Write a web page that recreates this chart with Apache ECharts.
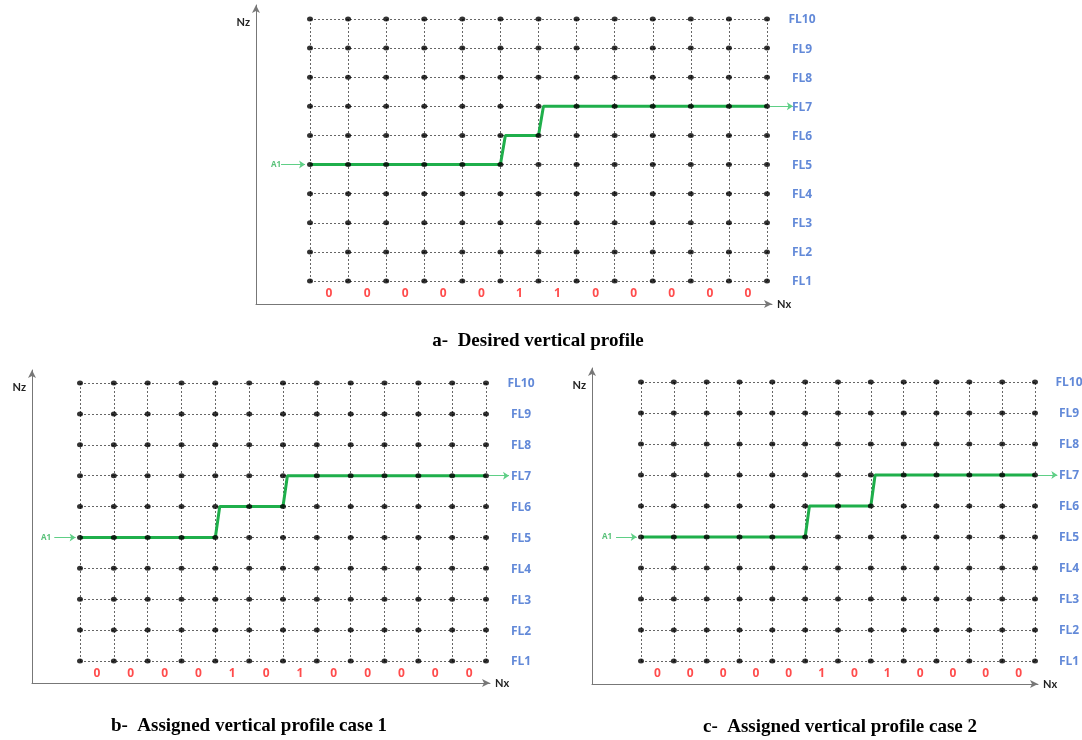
<!DOCTYPE html>
<html>
<head>
<meta charset="utf-8">
<script src="https://cdn.jsdelivr.net/npm/echarts@6/dist/echarts.min.js"></script>
<style>
  html, body { margin: 0; padding: 0; background: #fff; }
  #main { width: 1082px; height: 740px; }
</style>
</head>
<body>
<div id="main"></div>
<script>
// 网格：13 条竖线（列），10 个飞行高度层
var columns = [0, 1, 2, 3, 4, 5, 6, 7, 8, 9, 10, 11, 12];
var levels = [1, 2, 3, 4, 5, 6, 7, 8, 9, 10];
var levelLabels = ["FL1", "FL2", "FL3", "FL4", "FL5", "FL6", "FL7", "FL8", "FL9", "FL10"];
// 每个间隔的 0/1 标记
var bitsA = [0, 0, 0, 0, 0, 1, 1, 0, 0, 0, 0, 0];
var bitsB = [0, 0, 0, 0, 1, 0, 1, 0, 0, 0, 0, 0];
var bitsC = [0, 0, 0, 0, 0, 1, 0, 1, 0, 0, 0, 0];
var startLevel = 5;   // A1 从 FL5 进入
var targetLevel = 7;  // 目标 FL7
var captions = [
    "a-  Desired vertical profile",
    "b-  Assigned vertical profile case 1",
    "c-  Assigned vertical profile case 2"
];

(function () {
    var myChart = echarts.init(document.getElementById("main"));

    // 每个子图的像素布局（网格四角、坐标轴线位置、标题位置）
    var panels = [
        { bits: bitsA, col0: 310, col12: 767, fl10: 19, fl1: 281, axisX: 256, axisY: 304, xEnd: 772, yTop: 5, cap: [538, 341], flGap: 35 },
        { bits: bitsB, col0: 80, col12: 486, fl10: 383, fl1: 661, axisX: 32, axisY: 683, xEnd: 490, yTop: 370, cap: [249, 726], flGap: 35 },
        { bits: bitsC, col0: 641, col12: 1035, fl10: 382, fl1: 661, axisX: 592, axisY: 684, xEnd: 1038, yTop: 368, cap: [840, 727], flGap: 34 }
    ];

    var lastCol = columns[columns.length - 1];
    var climb = 0.13; // 爬升段的斜度（列宽比例）

    function profilePoints(bits) {
        var lvl = startLevel;
        var pts = [[columns[0], lvl]];
        bits.forEach(function (b, i) {
            if (b) {
                pts.push([columns[i], lvl]);
                lvl += 1;
                pts.push([columns[i] + climb, lvl]);
            }
        });
        pts.push([lastCol, lvl]);
        return pts;
    }

    var grids = [], xAxes = [], yAxes = [], series = [], graphics = [];

    panels.forEach(function (p, k) {
        var pxCol = (p.col12 - p.col0) / lastCol;
        var pxRow = (p.fl1 - p.fl10) / (levels.length - 1);
        grids.push({
            left: p.axisX,
            top: p.yTop,
            width: p.xEnd - p.axisX,
            height: p.axisY - p.yTop
        });
        xAxes.push({
            gridIndex: k,
            type: "value",
            min: columns[0] - (p.col0 - p.axisX) / pxCol,
            max: lastCol + (p.xEnd - p.col12) / pxCol,
            axisLine: {
                show: true,
                onZero: false,
                symbol: ["none", "arrow"],
                symbolSize: [6, 8],
                lineStyle: { color: "#777", width: 1 }
            },
            axisTick: { show: false },
            axisLabel: { show: false },
            splitLine: { show: false },
            name: "Nx",
            nameLocation: "end",
            nameGap: 5,
            nameTextStyle: { color: "#222", fontWeight: "bold", fontSize: 11, fontFamily: "Lato" }
        });
        yAxes.push({
            gridIndex: k,
            type: "value",
            min: levels[0] - (p.axisY - p.fl1) / pxRow,
            max: levels[levels.length - 1] + (p.fl10 - p.yTop) / pxRow,
            axisLine: {
                show: true,
                onZero: false,
                symbol: ["none", "arrow"],
                symbolSize: [6, 8],
                lineStyle: { color: "#777", width: 1 }
            },
            axisTick: { show: false },
            axisLabel: { show: false },
            splitLine: { show: false },
            name: "Nz",
            nameLocation: "end",
            nameGap: -17,
            nameTextStyle: {
                color: "#222", fontWeight: "bold", fontSize: 11, fontFamily: "Lato",
                align: "right", verticalAlign: "middle", padding: [0, 6, 0, 0]
            }
        });

        // 虚线网格
        var gridLines = [];
        columns.forEach(function (c) {
            gridLines.push({ coords: [[c, levels[0]], [c, levels[levels.length - 1]]] });
        });
        levels.forEach(function (l) {
            gridLines.push({ coords: [[columns[0], l], [lastCol, l]] });
        });
        series.push({
            type: "lines",
            coordinateSystem: "cartesian2d",
            xAxisIndex: k,
            yAxisIndex: k,
            silent: true,
            z: 1,
            lineStyle: { color: "#666", width: 1, type: [2, 2], opacity: 1 },
            data: gridLines
        });

        // 高度剖面（绿色折线）
        series.push({
            type: "line",
            xAxisIndex: k,
            yAxisIndex: k,
            showSymbol: false,
            silent: true,
            z: 2,
            lineStyle: { color: "#1faf4b", width: 3 },
            data: profilePoints(p.bits)
        });

        // 网格节点
        var nodes = [];
        levels.forEach(function (l) {
            columns.forEach(function (c) { nodes.push([c, l]); });
        });
        series.push({
            type: "scatter",
            xAxisIndex: k,
            yAxisIndex: k,
            silent: true,
            z: 3,
            symbolSize: [6, 5],
            itemStyle: { color: "#000" },
            data: nodes
        });

        // A1 与 FL7 的箭头
        series.push({
            type: "lines",
            coordinateSystem: "cartesian2d",
            xAxisIndex: k,
            yAxisIndex: k,
            silent: true,
            clip: false,
            z: 2,
            symbol: ["none", "arrow"],
            symbolSize: 6,
            lineStyle: { color: "#5fcf86", width: 1, opacity: 1 },
            data: [
                { coords: [[columns[0] - 0.76, startLevel], [columns[0] - 0.13, startLevel]] },
                { coords: [[lastCol + 0.08, targetLevel], [lastCol + 0.68, targetLevel]] }
            ]
        });

        // 高度层标签 FL1..FL10
        series.push({
            type: "scatter",
            xAxisIndex: k,
            yAxisIndex: k,
            silent: true,
            clip: false,
            symbolSize: 0,
            label: {
                show: true,
                position: "inside",
                offset: [p.flGap, 1],
                formatter: function (d) { return levelLabels[d.dataIndex]; },
                color: "#3b6cce",
                fontWeight: "bold",
                fontSize: 12,
                fontFamily: "Open Sans"
            },
            data: levels.map(function (l) { return [lastCol, l]; })
        });

        // A1 标签
        series.push({
            type: "scatter",
            xAxisIndex: k,
            yAxisIndex: k,
            silent: true,
            clip: false,
            symbolSize: 0,
            label: {
                show: true,
                position: "inside",
                offset: [-34, 0],
                formatter: "A1",
                color: "#2fb257",
                fontWeight: "bold",
                fontSize: 8,
                fontFamily: "Open Sans"
            },
            data: [[columns[0], startLevel]]
        });

        // 0/1 标记
        series.push({
            type: "scatter",
            xAxisIndex: k,
            yAxisIndex: k,
            silent: true,
            clip: false,
            symbolSize: 0,
            label: {
                show: true,
                position: "inside",
                offset: [0, 13],
                formatter: function (d) { return String(p.bits[d.dataIndex]); },
                color: "#ff1f1f",
                fontWeight: "bold",
                fontSize: 12,
                fontFamily: "Open Sans"
            },
            data: p.bits.map(function (b, i) { return [columns[i] + 0.5, levels[0]]; })
        });

        // 子图标题
        graphics.push({
            type: "text",
            x: p.cap[0],
            y: p.cap[1],
            style: {
                text: captions[k],
                fontFamily: "Liberation Serif",
                fontWeight: "bold",
                fontSize: 19,
                fill: "#000",
                textAlign: "center",
                textVerticalAlign: "middle"
            }
        });
    });

    var option = {
        animation: false,
        backgroundColor: "#fff",
        grid: grids,
        xAxis: xAxes,
        yAxis: yAxes,
        series: series,
        graphic: graphics
    };
    myChart.setOption(option);
    window.addEventListener("resize", function () {
        myChart.resize();
    });
})();
</script>
</body>
</html>
